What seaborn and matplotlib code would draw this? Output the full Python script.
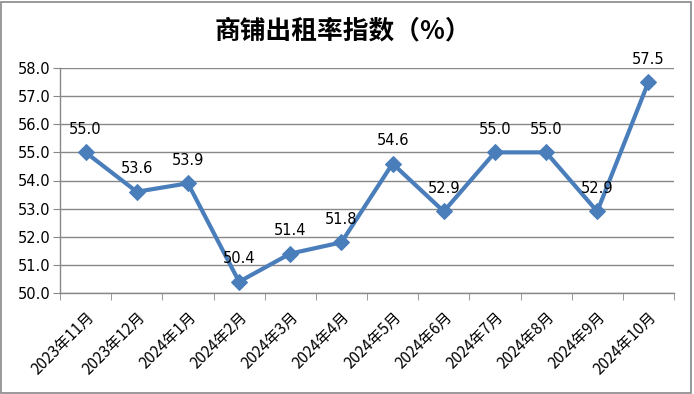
import numpy as np
import matplotlib
matplotlib.use('Agg')
import matplotlib.pyplot as plt
import seaborn as sns
from matplotlib.patches import Rectangle

# 数据
months = ['2023年11月', '2023年12月', '2024年1月', '2024年2月', '2024年3月', '2024年4月',
          '2024年5月', '2024年6月', '2024年7月', '2024年8月', '2024年9月', '2024年10月']
values = [55.0, 53.6, 53.9, 50.4, 51.4, 51.8, 54.6, 52.9, 55.0, 55.0, 52.9, 57.5]
y_ticks = [50.0, 51.0, 52.0, 53.0, 54.0, 55.0, 56.0, 57.0, 58.0]
title = '商铺出租率指数（%）'

sns.set_style('white')
plt.rcParams['font.family'] = ['Noto Sans CJK SC', 'DejaVu Sans']
plt.rcParams['text.color'] = 'black'
plt.rcParams['xtick.color'] = 'black'
plt.rcParams['ytick.color'] = 'black'

fig = plt.figure(figsize=(6.94, 3.94), dpi=100)
ax = fig.add_axes([60 / 694, 1 - 293 / 394, 614 / 694, 225 / 394])

x = np.arange(len(months))
sns.lineplot(x=x, y=values, ax=ax, color='#4A7EBB', linewidth=3, marker='D',
             markersize=8, markeredgecolor='#4A7EBB')

for xi, v in zip(x, values):
    ax.annotate(f'{v:.1f}', (xi, v), xytext=(0, 11), textcoords='offset points',
                ha='center', va='bottom', fontsize=10.5, family=['DejaVu Sans'])

ax.set_xlim(-0.5, len(months) - 0.5)
ax.set_ylim(50, 58)
ax.set_yticks(y_ticks)
ax.set_yticklabels([f'{t:.1f}' for t in y_ticks], fontsize=10.5, family=['DejaVu Sans'])
ax.yaxis.grid(True, color='#888888', linewidth=1)
ax.set_axisbelow(True)

ax.set_xticks(x)
ax.set_xticklabels(months, rotation=45, ha='right', rotation_mode='anchor', fontsize=11)
ax.set_xticks(np.arange(-0.5, len(months)), minor=True)
ax.tick_params(axis='x', which='major', length=0, pad=11)
ax.tick_params(axis='x', which='minor', length=5, color='#888888', direction='out', bottom=True)
ax.tick_params(axis='y', length=5, color='#888888', direction='out', left=True, pad=2)

for side in ['top', 'right']:
    ax.spines[side].set_visible(False)
for side in ['left', 'bottom']:
    ax.spines[side].set_color('#888888')
    ax.spines[side].set_linewidth(1)

fig.text(343 / 694, 1 - 31 / 394, title, ha='center', va='center', fontsize=18.5,
         fontweight='bold', color='black')

fig.patches.append(Rectangle((0.002, 0.003), 0.994, 0.993, transform=fig.transFigure,
                             fill=False, edgecolor='#888888', linewidth=1.2))

fig.savefig('out.png', dpi=100)
